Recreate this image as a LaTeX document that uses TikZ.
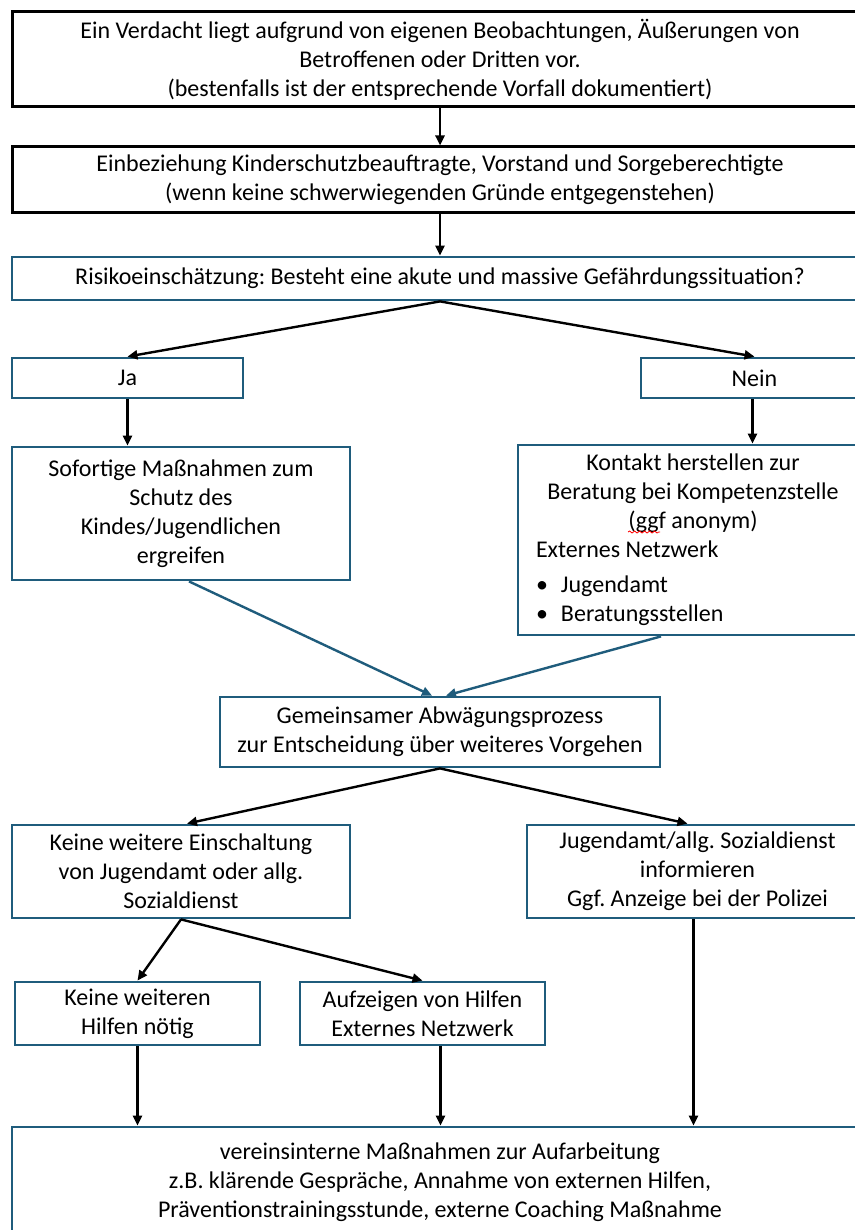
\documentclass[tikz,border=0pt]{standalone}
\usepackage{fontspec}
\setmainfont{Carlito}
\usepackage{tikz}
\usetikzlibrary{arrows.meta,decorations.pathmorphing}
\definecolor{boxblue}{RGB}{31,92,124}
\frenchspacing

\begin{document}
\begin{tikzpicture}[x=0.5pt,y=-0.5pt,
		font=\fontsize{12}{14.5}\selectfont,
		blackbox/.style={draw=black, line width=1.5pt, fill=white, align=center, inner sep=0pt},
		bluebox/.style={draw=boxblue, line width=1.4pt, fill=white, align=center, inner sep=0pt},
		arr/.style={-{Triangle[length=5pt,width=4.5pt]}, line width=1.2pt},
		bluearr/.style={arr, draw=boxblue, fill=boxblue}]
		\fill[white] (0,0) rectangle (855,1230);
		\useasboundingbox (0,0) rectangle (855,1230);

		% Verdacht und erste Schritte
		\path	(440,59.5) node[blackbox, minimum width=428pt, minimum height=47.5pt] (verdacht)
				{Ein Verdacht liegt aufgrund von eigenen Beobachtungen, Äußerungen von\\
				Betroffenen oder Dritten vor.\\
				(bestenfalls ist der entsprechende Vorfall dokumentiert)}
			(440,180) node[blackbox, minimum width=428pt, minimum height=33pt] (einbez)
				{Einbeziehung Kinderschutzbeauftragte, Vorstand und Sorgeberechtigte\\
				(wenn keine schwerwiegenden Gründe entgegenstehen)}
			(440,278.5) node[bluebox, minimum width=428pt, minimum height=21.5pt] (risiko)
				{Risikoeinschätzung: Besteht eine akute und massive Gefährdungssituation?};

		% Ja / Nein
		\path	(127.5,378) node[bluebox, minimum width=115.5pt, minimum height=20pt] (ja) {Ja}
			(754.5,378) node[bluebox, minimum width=113.5pt, minimum height=20pt] (nein) {Nein};
		\path	(181,513.5) node[bluebox, minimum width=169pt, minimum height=66.5pt] (sofort)
				{Sofortige Maßnahmen zum\\ Schutz des\\ Kindes/Jugendlichen\\ ergreifen}
			(693,540) node[bluebox, minimum width=175pt, minimum height=95pt] (kontakt)
				{Kontakt herstellen zur\\ Beratung bei Kompetenzstelle\\ (ggf anonym)\\
				\makebox[157pt][l]{Externes Netzwerk}\\[3pt]
				\makebox[157pt][l]{\makebox[12.5pt][l]{\textbullet}Jugendamt}\\
				\makebox[157pt][l]{\makebox[12.5pt][l]{\textbullet}Beratungsstellen}};
		\draw[red, line width=0.4pt, decorate, decoration={snake, amplitude=0.5pt, segment length=2.5pt}]
			(628,532) -- (660,532);

		% Abwaegung
		\path	(440,732) node[bluebox, minimum width=220pt, minimum height=35pt] (gemeinsam)
				{Gemeinsamer Abwägungsprozess\\ zur Entscheidung über weiteres Vorgehen};
		\path	(181,871.5) node[bluebox, minimum width=169pt, minimum height=46.5pt] (keine)
				{Keine weitere Einschaltung\\ von Jugendamt oder allg.\\ Sozialdienst}
			(697.5,871.5) node[bluebox, minimum width=170.5pt, minimum height=46.5pt] (jugendamt)
				{Jugendamt/allg. Sozialdienst\\ informieren\\ Ggf. Anzeige bei der Polizei};
		\path	(137.5,1013.5) node[bluebox, minimum width=122.5pt, minimum height=31.5pt] (keinehilfe)
				{Keine weiteren\\ Hilfen nötig}
			(422.5,1013.5) node[bluebox, minimum width=122.5pt, minimum height=31.5pt] (aufzeigen)
				{Aufzeigen von Hilfen\\ Externes Netzwerk};
		\path	(440,1182) node[bluebox, minimum width=428pt, minimum height=55pt] (intern)
				{vereinsinterne Maßnahmen zur Aufarbeitung\\
				z.B. klärende Gespräche, Annahme von externen Hilfen,\\
				Präventionstrainingsstunde, externe Coaching Maßnahme};

		% Pfeile
		\draw[arr] (verdacht) -- (einbez);
		\draw[arr] (einbez) -- (risiko);
		\draw[arr] (risiko.south) -- (ja.north);
		\draw[arr] (risiko.south) -- (nein.north);
		\draw[arr] (ja.south) -- (ja.south |- sofort.north);
		\draw[arr] ([xshift=-1pt]nein.south) -- ([xshift=-1pt]nein.south |- kontakt.north);
		\draw[bluearr] ([xshift=4pt]sofort.south) -- ([xshift=-4pt]gemeinsam.north);
		\draw[bluearr] ([xshift=-16pt]kontakt.south) -- ([xshift=3pt]gemeinsam.north);
		\draw[arr] (gemeinsam.south) -- ([xshift=3pt]keine.north);
		\draw[arr] (gemeinsam.south) -- ([xshift=-5pt]jugendamt.north);
		\draw[arr] (keine.south) -- (keinehilfe.north);
		\draw[arr] (keine.south) -- (aufzeigen.north);
		\draw[arr] (keinehilfe.south) -- (keinehilfe.south |- intern.north);
		\draw[arr] ([xshift=9pt]aufzeigen.south) -- ([xshift=9pt]aufzeigen.south |- intern.north);
		\draw[arr] ([xshift=-2pt]jugendamt.south) -- ([xshift=-2pt]jugendamt.south |- intern.north);
	\end{tikzpicture}
\end{document}
